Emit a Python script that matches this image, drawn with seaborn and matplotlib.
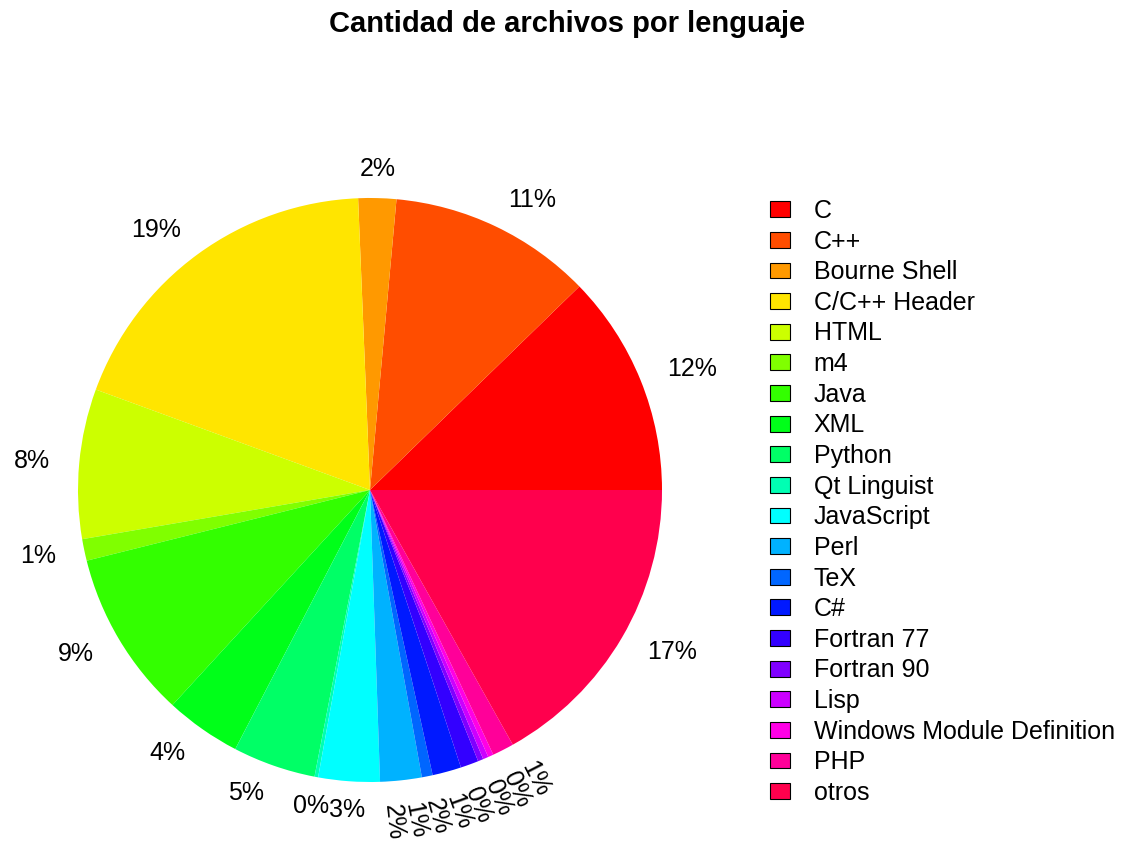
import numpy as np
import matplotlib
matplotlib.use("Agg")
import matplotlib.pyplot as plt
import matplotlib.patches as mpatches
import seaborn as sns
import colorsys

# datos: cantidad de archivos por lenguaje (escala ~1000)
lenguajes = ["C", "C++", "Bourne Shell", "C/C++ Header", "HTML", "m4", "Java", "XML",
             "Python", "Qt Linguist", "JavaScript", "Perl", "TeX", "C#", "Fortran 77",
             "Fortran 90", "Lisp", "Windows Module Definition", "PHP", "otros"]
archivos = [123, 113, 21, 188, 83, 12, 93, 42, 46, 2, 34, 23, 6, 16, 10, 3, 3, 3, 12, 169]

sns.set_style("white")
plt.rcParams['font.family'] = ['Liberation Sans', 'DejaVu Sans']
plt.rcParams['text.color'] = 'black'

# colores tipo rainbow() de R
colores = [colorsys.hsv_to_rgb(i / len(lenguajes), 1, 1) for i in range(len(lenguajes))]

fig = plt.figure(figsize=(11.27, 8.42), dpi=100)
ax = fig.add_axes([78 / 1127, 60 / 842, 584 / 1127, 584 / 842])
wedges, _ = ax.pie(archivos, colors=colores, startangle=0, counterclock=True,
                   radius=1, wedgeprops=dict(linewidth=0))
ax.set_xlim(-1, 1)
ax.set_ylim(-1, 1)
ax.set_aspect("equal")
ax.axis("off")

total = sum(archivos)
porcentajes = [round(100 * v / total) for v in archivos]

# las etiquetas pequeñas de abajo se reparten para que no se encimen
chicas = list(range(11, 19))
ang_chicas = np.linspace(274, 300, len(chicas))

# etiquetas a 1.1 del radio
for i, w in enumerate(wedges):
    ang = (w.theta1 + w.theta2) / 2
    txt = "{0}%".format(porcentajes[i])
    if i in chicas:
        a = ang_chicas[chicas.index(i)]
        x = 1.08 * np.cos(np.radians(a))
        y = 1.08 * np.sin(np.radians(a))
        ax.text(x, y, txt, rotation=ang - 360, rotation_mode="anchor",
                ha="left", va="center", fontsize=18, clip_on=False)
    else:
        x = 1.1 * np.cos(np.radians(ang))
        y = 1.1 * np.sin(np.radians(ang))
        if abs(x) < 0.25:
            ha = "center"
        elif x > 0:
            ha = "left"
        else:
            ha = "right"
        ax.text(x, y, txt, ha=ha, va="center", fontsize=18, clip_on=False)

fig.text(567 / 1127, 1 - 24 / 842, "Cantidad de archivos por lenguaje", fontsize=21,
         fontweight="bold", ha="center", va="center")

handles = [mpatches.Patch(facecolor=c, edgecolor="black", linewidth=0.8) for c in colores]
fig.legend(handles, lenguajes, loc="upper left", bbox_to_anchor=(770 / 1127, 1 - 199 / 842),
           frameon=False, fontsize=18, handlelength=0.8, handleheight=0.6,
           handletextpad=0.95, labelspacing=0.265, borderaxespad=0, borderpad=0)

plt.savefig("out.png", dpi=100)
